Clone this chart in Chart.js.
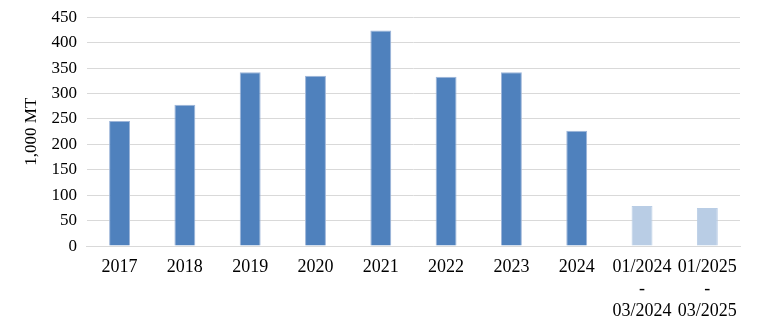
<!DOCTYPE html>
<html>
<head>
<meta charset="utf-8">
<script src="https://cdn.jsdelivr.net/npm/chart.js@4/dist/chart.umd.min.js"></script>
<style>
  html, body { margin: 0; padding: 0; background: #fff; }
  #wrap { width: 765px; height: 325px; }
</style>
</head>
<body>
<div id="wrap"><canvas id="chart"></canvas></div>
<script>
// Categories (multi-line for the quarter periods)
var categories = ['2017', '2018', '2019', '2020', '2021', '2022', '2023', '2024',
  ['01/2024', '-', '03/2024'], ['01/2025', '-', '03/2025']];
// Volume, 1,000 MT
var volumes = [246, 278, 342, 335, 424, 333, 342, 227, 79, 75];
// Full years dark, partial periods light
var isPartial = [false, false, false, false, false, false, false, false, true, true];
var yTicks = [0, 50, 100, 150, 200, 250, 300, 350, 400, 450];

var dark = '#4F81BD';
var light = '#B9CDE5';
var font = 'Liberation Serif, Times New Roman, serif';

new Chart(document.getElementById('chart'), {
  type: 'bar',
  data: {
    labels: categories,
    datasets: [{
      data: volumes,
      backgroundColor: isPartial.map(p => p ? light : dark),
      borderColor: isPartial.map(p => p ? light : '#9DB5D9'),
      borderWidth: { top: 1, left: 1, right: 1, bottom: 0 },
      barPercentage: 0.32,
      categoryPercentage: 1
    }]
  },
  options: {
    responsive: true,
    maintainAspectRatio: false,
    animation: false,
    layout: { padding: { top: 0, right: 25, left: 21, bottom: -7 } },
    plugins: { legend: { display: false }, tooltip: { enabled: false } },
    scales: {
      x: {
        grid: { display: false, drawTicks: false, tickLength: 0 },
        border: { color: '#d9d9d9' },
        ticks: {
          color: '#000',
          maxRotation: 0,
          autoSkip: false,
          padding: 10,
          font: { family: font, size: 18, lineHeight: 1.22 }
        }
      },
      y: {
        min: 0,
        max: 450,
        afterBuildTicks: axis => { axis.ticks = yTicks.map(v => ({ value: v })); },
        grid: { color: '#d9d9d9', lineWidth: 1, drawTicks: false },
        border: { display: false },
        ticks: {
          color: '#000',
          padding: 10,
          autoSkip: false,
          font: { family: font, size: 17, lineHeight: 0.85 }
        },
        title: {
          display: true,
          text: '1,000 MT',
          color: '#000',
          padding: { top: 0, bottom: 0 },
          font: { family: font, size: 17 }
        }
      }
    }
  }
});
</script>
</body>
</html>
